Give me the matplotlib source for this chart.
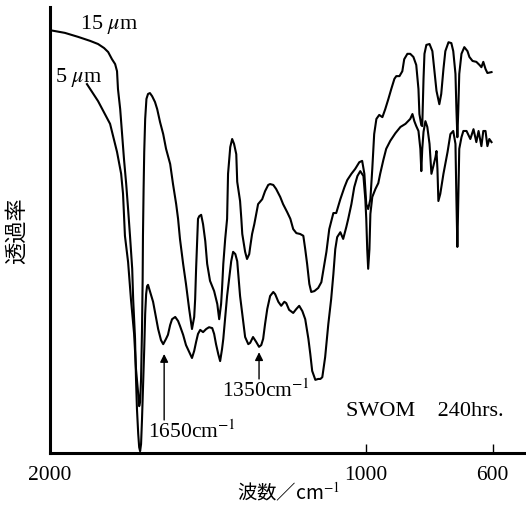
import numpy as np
import matplotlib
matplotlib.use('Agg')
import matplotlib.pyplot as plt

plt.rcParams['font.family'] = ['Liberation Serif', 'Noto Sans CJK JP', 'DejaVu Serif']
plt.rcParams['mathtext.fontset'] = 'stix'

# 5 um film (upper trace in the fingerprint region)
wn_5 = [1883, 1848, 1810, 1788, 1775, 1769, 1766, 1763, 1753, 1744, 1734, 1728, 1721, 1718,
        1715, 1712, 1709, 1707, 1706, 1704, 1702, 1699, 1695, 1690, 1684, 1677, 1668, 1661,
        1652, 1642, 1633, 1620, 1611, 1601, 1595, 1589, 1579, 1570, 1560, 1551, 1544, 1541,
        1538, 1535, 1532, 1528, 1522, 1516, 1509, 1503, 1494, 1481, 1471, 1465, 1459, 1456,
        1452, 1446, 1440, 1437, 1430, 1424, 1418, 1411, 1408, 1399, 1395, 1392, 1383, 1377,
        1370, 1367, 1361, 1354, 1348, 1342, 1329, 1320, 1310, 1304, 1294, 1285, 1272, 1263,
        1250, 1240, 1231, 1221, 1209, 1199, 1193, 1187, 1180, 1174, 1164, 1152, 1142, 1136,
        1126, 1117, 1104, 1095, 1082, 1069, 1060, 1047, 1035, 1022, 1013, 1006, 1000, 994,
        987, 981, 975, 968, 959, 949, 940, 930, 921, 911, 905, 895, 886, 880, 870, 861, 851,
        842, 835, 832, 826, 823, 819, 816, 810, 800, 791, 785, 778, 769, 763, 756, 750, 740,
        731, 725, 718, 715, 712, 709, 706, 699, 690, 680, 674, 664, 652, 642, 636, 630, 623,
        617, 604]
t_5 = [82.7, 78.9, 73.8, 67.5, 62.6, 58.1, 53.6, 48.7, 42.8, 34.5, 26.7, 18.8, 13.2, 10.5,
       11.4, 16.6, 27.8, 39.0, 48.7, 59.2, 67.5, 74.9, 79.4, 80.5, 80.7, 80.0, 78.7, 77.1,
       74.2, 71.5, 68.2, 64.8, 60.3, 55.8, 52.5, 48.0, 42.4, 37.9, 32.3, 27.8, 30.5, 34.5,
       41.3, 46.9, 52.5, 53.1, 53.4, 51.3, 47.5, 42.4, 38.6, 36.3, 33.4, 30.0, 33.4, 36.8,
       42.4, 48.0, 52.5, 62.6, 68.6, 70.4, 69.3, 67.0, 60.8, 56.5, 52.5, 49.1, 45.1, 43.5,
       44.6, 46.2, 49.1, 51.3, 53.6, 55.8, 56.9, 58.7, 60.1, 60.3, 60.1, 59.2, 57.4, 55.8,
       54.0, 52.5, 50.2, 49.3, 49.1, 48.7, 45.7, 42.4, 37.9, 36.1, 36.3, 37.0, 38.3, 40.8,
       45.1, 50.2, 53.8, 53.8, 56.9, 59.6, 61.2, 62.6, 63.7, 65.2, 65.5, 62.6, 55.8, 54.7,
       56.9, 63.7, 71.5, 74.9, 75.8, 75.3, 77.1, 79.4, 81.6, 83.9, 84.5, 84.5, 85.6, 88.3,
       89.5, 89.5, 88.8, 87.0, 81.6, 76.0, 73.5, 73.3, 83.9, 89.5, 91.5, 91.7, 90.1, 86.1,
       81.2, 78.2, 80.5, 86.1, 90.1, 92.1, 91.9, 90.1, 85.0, 77.1, 70.8, 77.1, 85.0, 89.5,
       91.0, 90.1, 88.8, 87.9, 87.7, 87.0, 86.5, 87.7, 86.1, 85.2, 85.4]

# 15 um film
wn_15 = [2000, 1953, 1911, 1873, 1848, 1829, 1816, 1804, 1794, 1788, 1785, 1778, 1772, 1766,
         1759, 1753, 1747, 1740, 1737, 1731, 1728, 1725, 1721, 1718, 1715, 1712, 1709, 1706,
         1702, 1699, 1696, 1693, 1690, 1684, 1674, 1665, 1658, 1649, 1642, 1633, 1627, 1620,
         1614, 1604, 1595, 1589, 1579, 1570, 1557, 1551, 1544, 1538, 1532, 1525, 1516, 1506,
         1497, 1487, 1481, 1475, 1468, 1462, 1456, 1452, 1446, 1440, 1433, 1427, 1421, 1414,
         1408, 1402, 1399, 1392, 1389, 1383, 1373, 1367, 1358, 1348, 1339, 1332, 1326, 1320,
         1313, 1304, 1294, 1288, 1278, 1269, 1259, 1253, 1244, 1231, 1221, 1212, 1202, 1193,
         1183, 1177, 1171, 1161, 1152, 1145, 1139, 1130, 1120, 1111, 1104, 1098, 1092, 1082,
         1073, 1063, 1057, 1047, 1038, 1028, 1019, 1009, 1003, 1000, 997, 994, 990, 987, 981,
         971, 962, 956, 946, 937, 924, 908, 892, 876, 861, 854, 848, 842, 835, 829, 826, 823,
         819, 813, 807, 800, 794, 788, 781, 778, 775, 772, 766, 756, 743, 734, 725, 718, 715,
         712, 709, 706, 699, 693, 683, 677, 671, 661, 652, 645, 636, 630, 623, 617, 611, 604]
t_15 = [94.8, 94.2, 93.3, 92.4, 91.7, 90.8, 89.9, 88.3, 87.2, 85.6, 81.6, 77.1, 71.5, 65.9,
        60.3, 54.7, 48.7, 41.3, 34.5, 25.6, 16.6, 9.9, 4.3, 1.3, 0.4, 2.0, 7.6, 14.3,
        23.3, 31.2, 35.6, 37.4, 37.7, 36.3, 33.9, 30.5, 27.8, 25.3, 24.4, 25.6, 26.5, 28.7,
        30.0, 30.5, 29.6, 28.5, 26.5, 24.2, 22.2, 21.3, 22.9, 24.9, 26.7, 27.6, 27.1, 27.8,
        28.2, 28.0, 26.7, 24.4, 22.2, 20.6, 23.3, 25.6, 30.5, 35.2, 39.5, 43.0, 45.1, 44.6,
        43.0, 37.9, 35.2, 31.2, 29.4, 26.0, 24.4, 24.7, 26.0, 24.9, 23.8, 24.2, 25.6, 28.9,
        32.3, 35.2, 36.1, 35.6, 33.9, 33.0, 33.9, 33.6, 32.1, 31.4, 32.3, 33.0, 31.8, 30.0,
        25.6, 22.2, 18.4, 16.4, 16.6, 16.6, 17.0, 21.5, 28.9, 34.5, 40.1, 45.7, 48.4, 49.5,
        48.0, 50.7, 52.5, 55.8, 59.6, 62.1, 63.2, 62.1, 56.9, 52.5, 45.7, 41.3, 45.7, 53.6, 57.4,
        59.2, 60.5, 62.6, 65.7, 68.2, 70.0, 71.7, 73.1, 73.8, 74.9, 76.0, 74.4, 73.3, 72.2, 68.2, 63.2, 68.2,
        72.0, 74.4, 73.1, 69.3, 62.6, 64.3, 66.4, 67.7, 63.7, 56.5, 58.1, 62.6, 67.5, 71.5, 72.2, 69.3, 56.9,
        46.2, 56.9, 68.2, 70.8, 72.2, 72.2, 71.3, 70.4, 72.6, 69.7, 72.2, 68.8, 72.2, 72.2, 68.8, 70.4, 69.7]

x_ticks = [2000, 1000, 600]
x_tick_labels = ['2000', '1000', '600']

# marked bands: (wavenumber, arrow tip, arrow base)
bands = [(1639, 22.2, 7.4), (1339, 22.6, 16.6)]

fig = plt.figure(figsize=(5.26, 5.06), dpi=100)
ax = fig.add_axes([0.095, 0.1028, 0.905, 0.8814])

ax.plot(wn_15, t_15, color='black', lw=1.5)
ax.plot(wn_5, t_5, color='black', lw=1.5)

ax.set_xlim(2000, 495)
ax.set_ylim(0, 100)

for s in ['top', 'right']:
    ax.spines[s].set_visible(False)
ax.spines['left'].set_linewidth(2.2)
ax.spines['bottom'].set_linewidth(2.2)

ax.set_xticks(x_ticks)
ax.set_xticklabels(x_tick_labels, fontsize=15.5)
ax.tick_params(axis='x', direction='in', length=6.5, width=1, pad=9)
ax.set_yticks([])

fig.text(0.032, 0.545, '透過率', family=['Noto Sans CJK JP'], fontsize=16,
         rotation=90, ha='center', va='center')
fig.text(0.549, 0.026, '波数／cm$^{-1}$', family=['Noto Sans CJK JP'], fontsize=14,
         ha='center', va='center')

ax.text(1905, 96.3, '15 $\\mu$m', fontsize=16, ha='left', va='center')
ax.text(1983, 84.5, '5 $\\mu$m', fontsize=16, ha='left', va='center')
ax.text(1063, 9.6, 'SWOM    240hrs.', fontsize=16, ha='left', va='center')

for wn, tip, base in bands:
    ax.annotate('', xy=(wn, tip), xytext=(wn, base),
                arrowprops=dict(arrowstyle='-|>', color='black', lw=1,
                                shrinkA=0, shrinkB=0, mutation_scale=12))
ax.text(1690, 4.9, '1650cm$^{-1}$', fontsize=15.5, ha='left', va='center')
ax.text(1456, 14.1, '1350cm$^{-1}$', fontsize=15.5, ha='left', va='center')

plt.savefig('out.png', dpi=100)
